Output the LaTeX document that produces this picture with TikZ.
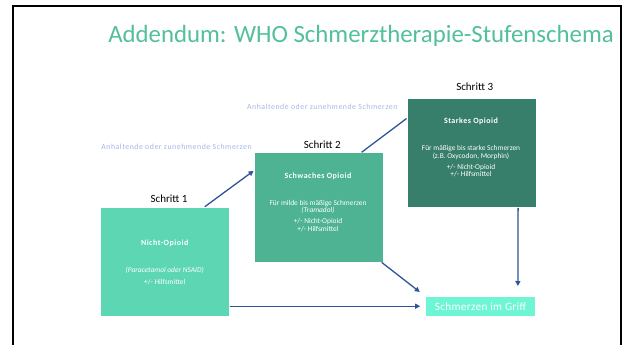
\documentclass[tikz,border=0pt]{standalone}
\usepackage{fontspec}
\setmainfont{Carlito}
\usetikzlibrary{arrows.meta}
\definecolor{titlec}{HTML}{52BF9D}
\definecolor{cone}{HTML}{5CD6B3}
\definecolor{ctwo}{HTML}{4DB393}
\definecolor{cthree}{HTML}{377F6A}
\definecolor{cgoal}{HTML}{6EF5D4}
\definecolor{clabel}{HTML}{A4B6E4}
\definecolor{carrow}{HTML}{2E5597}
\tikzset{
  stepbox/.style={draw=white, line width=0.6pt, minimum width=129pt, minimum height=109.5pt, anchor=north west, inner sep=0pt},
  head/.style={text=white, font=\fontsize{8}{9}\selectfont\bfseries\addfontfeature{LetterSpace=6}, inner sep=0pt},
  body/.style={text=white, font=\fontsize{7.4}{8.5}\selectfont, inner sep=0pt},
  stepname/.style={font=\fontsize{11}{13}\selectfont, inner sep=0pt},
  painlbl/.style={text=clabel, font=\fontsize{7.8}{9}\selectfont\addfontfeature{LetterSpace=7}, inner sep=0pt},
  arr/.style={draw=carrow, line width=1.3pt, -{Triangle[length=5pt,width=5pt]}},
  plainline/.style={draw=carrow, line width=1.3pt},
}
\begin{document}
\begin{tikzpicture}[x=1pt,y=-1pt]
\useasboundingbox (0,0) rectangle (626,345);
% frame
\draw[black, line width=2.5pt] (13,346) -- (13,6.2) -- (621,6.2) -- (621,346);
% title
\node[anchor=base, text=titlec, font=\fontsize{24.8}{28}\selectfont, inner sep=0pt] (title) at (361,43) {Addendum: WHO Schmerztherapie-Stufenschema};

% boxes
\node[stepbox, fill=cone] (b1) at (100,206.7) {};
\node[stepbox, fill=ctwo] (b2) at (253.6,152.3) {};
\node[stepbox, fill=cthree] (b3) at (406.5,97.7) {};
\node[fill=cgoal, minimum width=109pt, minimum height=18.6pt, anchor=north west, inner sep=0pt,
      text=white, font=\fontsize{11.2}{13}\selectfont\addfontfeature{LetterSpace=3}] (g) at (425.8,296.7) {Schmerzen im Griff};

% step names
\node[stepname] (s1) at (169,198.7) {Schritt 1};
\node[stepname] (s2) at (322.3,144.7) {Schritt 2};
\node[stepname] (s3) at (474.7,86.7) {Schritt 3};

% box 1 text
\node[head] (h1) at (164.7,243.3) {Nicht-Opioid};
\node[body] (t1a) at (164.7,270) {\itshape (Paracetamol oder NSAID)};
\node[body] (t1b) at (164.7,281.7) {+/- Hilfsmittel};

% box 2 text
\node[head] (h2) at (318,176.3) {Schwaches Opioid};
\node[body] (t2a) at (318,203.3) {Für milde bis mäßige Schmerzen};
\node[body] (t2b) at (318,210.7) {\itshape (Tramadol)};
\node[body] (t2c) at (318,221.3) {+/- Nicht-Opioid};
\node[body] (t2d) at (318,229.3) {+/- Hilfsmittel};

% box 3 text
\node[head] (h3) at (471,121.3) {Starkes Opioid};
\node[body] (t3a) at (471,148.3) {Für mäßige bis starke Schmerzen};
\node[body] (t3b) at (471,156.3) {(z.B. Oxycodon, Morphin)};
\node[body] (t3c) at (471,167.3) {+/- Nicht-Opioid};
\node[body] (t3d) at (471,174.3) {+/- Hilfsmittel};

% pain labels
\node[painlbl] (p1) at (176.5,146.7) {Anhaltende oder zunehmende Schmerzen};
\node[painlbl] (p2) at (322.3,106.7) {Anhaltende oder zunehmende Schmerzen};

% connectors
\draw[arr] ([xshift=40pt]b1.north) -- ([yshift=36.5pt]b2.west);
\draw[plainline] ([xshift=43.2pt]b2.north) -- ([yshift=34.2pt]b3.west);
\draw[arr] ([xshift=-1.5pt]b2.south east) -- ([xshift=-6pt,yshift=4.7pt]g.north west);
\draw[arr] ([xshift=46.8pt]b3.south) -- ([xshift=-17.3pt,yshift=10.7pt]g.north east);
\draw[arr] (b1.east |- g.west) -- ([xshift=-5.6pt]g.west);
\end{tikzpicture}
\end{document}
